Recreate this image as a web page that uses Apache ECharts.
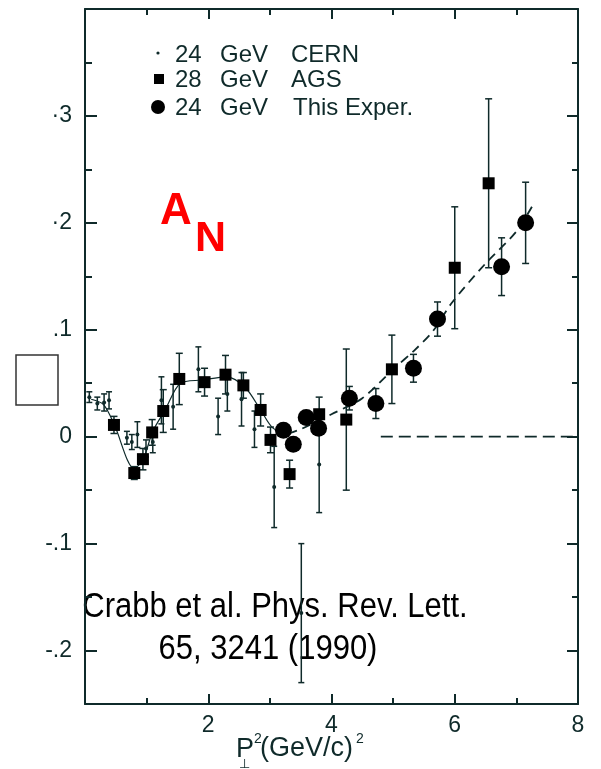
<!DOCTYPE html>
<html>
<head>
<meta charset="utf-8">
<script src="https://cdn.jsdelivr.net/npm/echarts@6/dist/echarts.min.js"></script>
<style>
  html, body { margin: 0; padding: 0; background: #ffffff; }
  #chart { width: 601px; height: 769px; }
</style>
</head>
<body>
<div id="chart"></div>
<script>
// Single-spin asymmetry A_N versus P_perp^2 (Crabb et al., PRL 65, 3241, 1990)

// 24 GeV CERN points: x, A_N, error
const cernX   = [0.07, 0.20, 0.31, 0.39, 0.68, 0.76, 0.85, 0.99, 1.10, 1.24, 1.43, 1.84, 2.16, 2.31, 2.54, 2.75, 3.07, 3.51, 3.80];
const cernY   = [0.037, 0.031, 0.032, 0.034, -0.001, -0.005, 0.002, -0.011, -0.005, 0.034, 0.028, 0.063, 0.019, 0.040, 0.035, 0.007, -0.047, -0.165, -0.026];
const cernErr = [0.005, 0.006, 0.008, 0.008, 0.006, 0.007, 0.012, 0.008, 0.010, 0.022, 0.021, 0.021, 0.017, 0.016, 0.025, 0.017, 0.038, 0.065, 0.045];

// 28 GeV AGS points
const agsX   = [0.47, 0.80, 0.94, 1.09, 1.27, 1.53, 1.94, 2.28, 2.57, 2.85, 3.01, 3.32, 3.80, 4.24, 4.98, 6.00, 6.55];
const agsY   = [0.011, -0.034, -0.021, 0.004, 0.024, 0.054, 0.051, 0.058, 0.048, 0.025, -0.003, -0.035, 0.021, 0.016, 0.063, 0.158, 0.237];
const agsErr = [0.008, 0.006, 0.010, 0.012, 0.020, 0.024, 0.013, 0.018, 0.012, 0.015, 0.012, 0.013, 0.016, 0.066, 0.032, 0.057, 0.079];

// 24 GeV points of this experiment
const expX   = [3.22, 3.38, 3.59, 3.79, 4.29, 4.72, 5.33, 5.72, 6.76, 7.15];
const expY   = [0.006, -0.007, 0.018, 0.008, 0.036, 0.031, 0.064, 0.110, 0.159, 0.200];
const expErr = [0.006, 0.006, 0.006, 0.006, 0.011, 0.014, 0.013, 0.016, 0.027, 0.038];

// guide curves
const lowCurveX  = [0.10, 0.30, 0.47, 0.80, 0.95, 1.10, 1.30, 1.55, 1.90, 2.30, 2.60, 2.85, 3.05, 3.30];
const lowCurveY  = [0.035, 0.030, 0.012, -0.030, -0.020, 0.005, 0.025, 0.050, 0.053, 0.056, 0.046, 0.025, 0.008, 0.003];
const highCurveX = [3.30, 3.50, 4.00, 4.50, 5.00, 5.35, 5.65, 5.95, 6.50, 7.00, 7.30];
const highCurveY = [0.003, 0.007, 0.021, 0.036, 0.063, 0.081, 0.099, 0.125, 0.162, 0.192, 0.220];
const zeroLineX  = [4.80, 8.00];
const zeroLineY  = [0, 0];

// axes
const yMajor = [-0.2, -0.1, 0, 0.1, 0.2, 0.3];
const yMajorLabels = ['-.2', '-.1', '0', '.1', '·2', '·3'];
const yMinor = [-0.25, -0.15, -0.05, 0.05, 0.15, 0.25, 0.35];
const xTickLabels = ['', '2', '4', '6', '8'];
const xMin = 0, xMax = 8, xStep = 2;
const yMin = -0.25, yMax = 0.40;

const INK = '#0f2a2a';
const FONT = '"Liberation Sans", Arial, sans-serif';

function zip(xs, ys) { return xs.map((x, i) => [x, ys[i]]); }
function errData(xs, ys, es) { return xs.map((x, i) => [x, ys[i] - es[i], ys[i] + es[i]]); }

function errorBarRender(capHalf) {
  return function (params, api) {
    const x = api.value(0);
    const lo = api.coord([x, api.value(1)]);
    const hi = api.coord([x, api.value(2)]);
    const style = { stroke: INK, lineWidth: 1.5, fill: null };
    return {
      type: 'group',
      children: [
        { type: 'line', shape: { x1: lo[0], y1: lo[1], x2: hi[0], y2: hi[1] }, style },
        { type: 'line', shape: { x1: hi[0] - capHalf, y1: hi[1], x2: hi[0] + capHalf, y2: hi[1] }, style },
        { type: 'line', shape: { x1: lo[0] - capHalf, y1: lo[1], x2: lo[0] + capHalf, y2: lo[1] }, style }
      ]
    };
  };
}

function yAxisDef(position, ticks, len, showLine, labels) {
  return {
    type: 'value', position, min: yMin, max: yMax,
    axisLine: { show: showLine, lineStyle: { color: INK, width: 2 } },
    axisTick: { show: true, inside: true, length: len, customValues: ticks, lineStyle: { color: INK, width: 2 } },
    axisLabel: labels ? {
      show: true, customValues: yMajor, margin: 13, color: INK, fontSize: 23, fontFamily: FONT,
      formatter: v => {
        let k = 0, best = Infinity;
        yMajor.forEach((m, i) => { const d = Math.abs(m - v); if (d < best) { best = d; k = i; } });
        return yMajorLabels[k];
      }
    } : { show: false },
    splitLine: { show: false }
  };
}

function xAxisDef(position, labels) {
  return {
    type: 'value', position, min: xMin, max: xMax, interval: xStep,
    axisLine: { show: true, onZero: false, lineStyle: { color: INK, width: 2 } },
    axisTick: { show: true, inside: true, length: 10, lineStyle: { color: INK, width: 2 } },
    minorTick: { show: true, splitNumber: 2, length: 6, lineStyle: { color: INK, width: 2 } },
    axisLabel: labels ? {
      show: true, margin: 10, color: INK, fontSize: 23, fontFamily: FONT,
      formatter: v => xTickLabels[Math.round((v - xMin) / xStep)] || ''
    } : { show: false },
    splitLine: { show: false }
  };
}

function txt(x, y, text, font, fill, extra) {
  return Object.assign({ type: 'text', x, y,
    style: { text, font, fill, verticalAlign: 'middle' } }, extra || {});
}

const chart = echarts.init(document.getElementById('chart'), null, { renderer: 'canvas' });

chart.setOption({
  backgroundColor: '#ffffff',
  animation: false,
  grid: { left: 85, right: 23, top: 9, bottom: 65, containLabel: false },
  xAxis: [xAxisDef('bottom', true), xAxisDef('top', false)],
  yAxis: [
    yAxisDef('left', yMajor, 12, true, true),
    yAxisDef('left', yMinor, 7, false, false),
    yAxisDef('right', yMajor, 11, true, false),
    yAxisDef('right', yMinor, 6, false, false)
  ],
  series: [
    { type: 'line', data: zip(lowCurveX, lowCurveY), showSymbol: false, smooth: 0.3,
      lineStyle: { color: INK, width: 1.2 }, z: 1 },
    { type: 'line', data: zip(highCurveX, highCurveY), showSymbol: false, smooth: 0.3,
      lineStyle: { color: INK, width: 1.8, type: [9, 6] }, z: 1 },
    { type: 'line', data: zip(zeroLineX, zeroLineY), showSymbol: false,
      lineStyle: { color: INK, width: 1.8, type: [12, 6] }, z: 1 },
    { type: 'custom', data: errData(cernX, cernY, cernErr), renderItem: errorBarRender(3), z: 2 },
    { type: 'custom', data: errData(agsX, agsY, agsErr), renderItem: errorBarRender(3.5), z: 2 },
    { type: 'custom', data: errData(expX, expY, expErr), renderItem: errorBarRender(3.5), z: 2 },
    { name: '24 GeV CERN', type: 'scatter', data: zip(cernX, cernY), symbol: 'circle', symbolSize: 4,
      itemStyle: { color: INK, opacity: 1 }, z: 3 },
    { name: '28 GeV AGS', type: 'scatter', data: zip(agsX, agsY), symbol: 'rect', symbolSize: 12,
      itemStyle: { color: '#000', opacity: 1 }, z: 4 },
    { name: '24 GeV This Exper.', type: 'scatter', data: zip(expX, expY), symbol: 'circle', symbolSize: 17,
      itemStyle: { color: '#000', opacity: 1 }, z: 5 }
  ],
  graphic: [
    // key
    { type: 'circle', shape: { cx: 158, cy: 53, r: 1.6 }, style: { fill: INK } },
    { type: 'rect', shape: { x: 154, y: 74, width: 10, height: 10 }, style: { fill: '#000' } },
    { type: 'circle', shape: { cx: 158, cy: 107, r: 7 }, style: { fill: '#000' } },
    txt(175, 55, '24', '24px ' + FONT, INK),
    txt(220, 55, 'GeV', '24px ' + FONT, INK),
    txt(291, 55, 'CERN', '24px ' + FONT, INK),
    txt(175, 80, '28', '24px ' + FONT, INK),
    txt(220, 80, 'GeV', '24px ' + FONT, INK),
    txt(291, 80, 'AGS', '24px ' + FONT, INK),
    txt(175, 108, '24', '24px ' + FONT, INK),
    txt(220, 108, 'GeV', '24px ' + FONT, INK),
    txt(293, 108, 'This Exper.', '24px ' + FONT, INK),
    // A_N
    txt(160, 212, 'A', 'bold 44px ' + FONT, '#ff0000'),
    txt(195, 239, 'N', 'bold 43px ' + FONT, '#ff0000'),
    // reference
    txt(275, 607, 'Crabb et al. Phys. Rev. Lett.', '31px ' + FONT, '#000',
      { scaleY: 1.12, style: { text: 'Crabb et al. Phys. Rev. Lett.', font: '31px ' + FONT, fill: '#000', align: 'center', verticalAlign: 'middle' } }),
    txt(268, 649, '65, 3241 (1990)', '31px ' + FONT, '#000',
      { scaleY: 1.12, style: { text: '65, 3241 (1990)', font: '31px ' + FONT, fill: '#000', align: 'center', verticalAlign: 'middle' } }),
    // empty box left of the axis
    { type: 'rect', shape: { x: 16, y: 355, width: 42, height: 50 }, style: { fill: '#fff', stroke: '#333', lineWidth: 1.5 } },
    // axis title P_perp^2 (GeV/c)^2
    txt(236, 750, 'P', '27px ' + FONT, INK),
    txt(239, 765, '⊥', '13px "DejaVu Sans", sans-serif', INK),
    txt(254, 739, '2', '14px ' + FONT, INK),
    txt(260, 749, '(GeV/c)', '27px ' + FONT, INK),
    txt(356, 739, '2', '14px ' + FONT, INK)
  ]
});
</script>
</body>
</html>
